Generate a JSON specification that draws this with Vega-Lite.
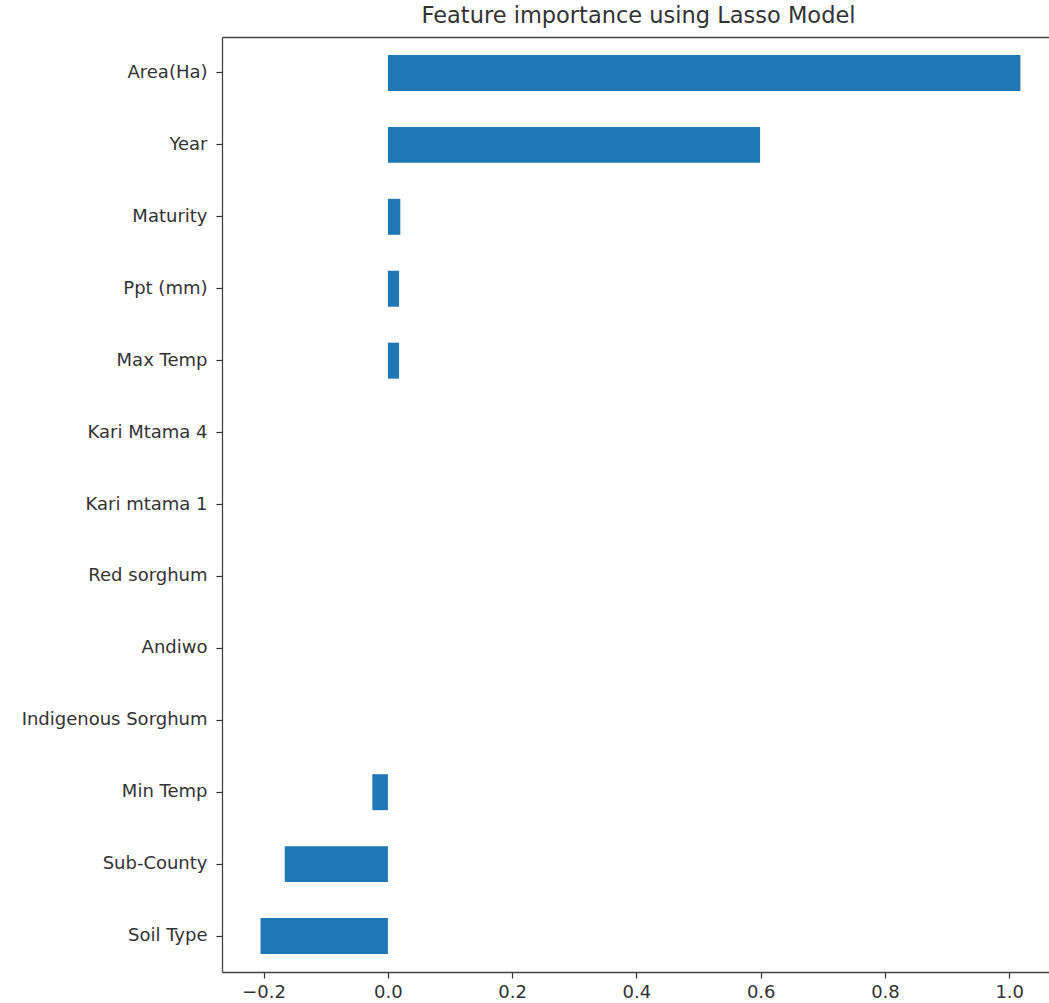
{
  "$schema": "https://vega.github.io/schema/vega-lite/v6.json",
  "autosize": {"type": "none"},
  "padding": {"left": 222, "top": 37, "right": 0, "bottom": 31},
  "width": 827,
  "height": 935,
  "background": "white",
  "title": {"text": "Feature importance using Lasso Model", "font": "DejaVu Sans", "fontSize": 22.5, "fontWeight": "normal", "color": "#333333", "offset": 10, "dx": 3},
  "config": {"view": {"stroke": null}},
  "data": {"values": [
    {"feature": "Area(Ha)", "coef": 1.018},
    {"feature": "Year", "coef": 0.599},
    {"feature": "Maturity", "coef": 0.020},
    {"feature": "Ppt (mm)", "coef": 0.018},
    {"feature": "Max Temp", "coef": 0.018},
    {"feature": "Kari Mtama 4", "coef": 0.0},
    {"feature": "Kari mtama 1", "coef": 0.0},
    {"feature": "Red sorghum", "coef": 0.0},
    {"feature": "Andiwo", "coef": 0.0},
    {"feature": "Indigenous Sorghum", "coef": 0.0},
    {"feature": "Min Temp", "coef": -0.025},
    {"feature": "Sub-County", "coef": -0.166},
    {"feature": "Soil Type", "coef": -0.205}
  ]},
  "layer": [
    {
      "mark": {"type": "bar", "color": "#1f77b4"},
      "encoding": {
        "y": {"field": "feature", "type": "nominal", "sort": null,
          "scale": {"paddingInner": 0.5, "paddingOuter": 0.25},
          "axis": {"title": null, "labelFont": "DejaVu Sans", "labelFontSize": 18, "labelColor": "#333333", "labelLimit": 400, "tickSize": 6, "tickColor": "#333333", "tickWidth": 1.2, "labelPadding": 9, "domainColor": "#444444", "domainWidth": 1.3, "grid": false}},
        "x": {"field": "coef", "type": "quantitative",
          "scale": {"domain": [-0.267, 1.064], "nice": false, "zero": false},
          "axis": {"title": null, "orient": "bottom", "values": [-0.2, 0, 0.2, 0.4, 0.6, 0.8, 1.0], "format": ".1f", "labelFont": "DejaVu Sans", "labelFontSize": 18, "labelColor": "#333333", "tickSize": 6, "tickColor": "#333333", "tickWidth": 1.2, "labelPadding": 5, "domainColor": "#444444", "domainWidth": 1.3, "grid": false, "labelFlush": false}}
      }
    },
    {
      "mark": {"type": "bar", "opacity": 0},
      "encoding": {
        "y": {"field": "feature", "type": "nominal", "sort": null},
        "x": {"field": "coef", "type": "quantitative",
          "axis": {"title": null, "orient": "top", "labels": false, "ticks": false, "grid": false, "domainColor": "#444444", "domainWidth": 1.3}}
      }
    }
  ],
  "resolve": {"axis": {"x": "independent"}}
}
